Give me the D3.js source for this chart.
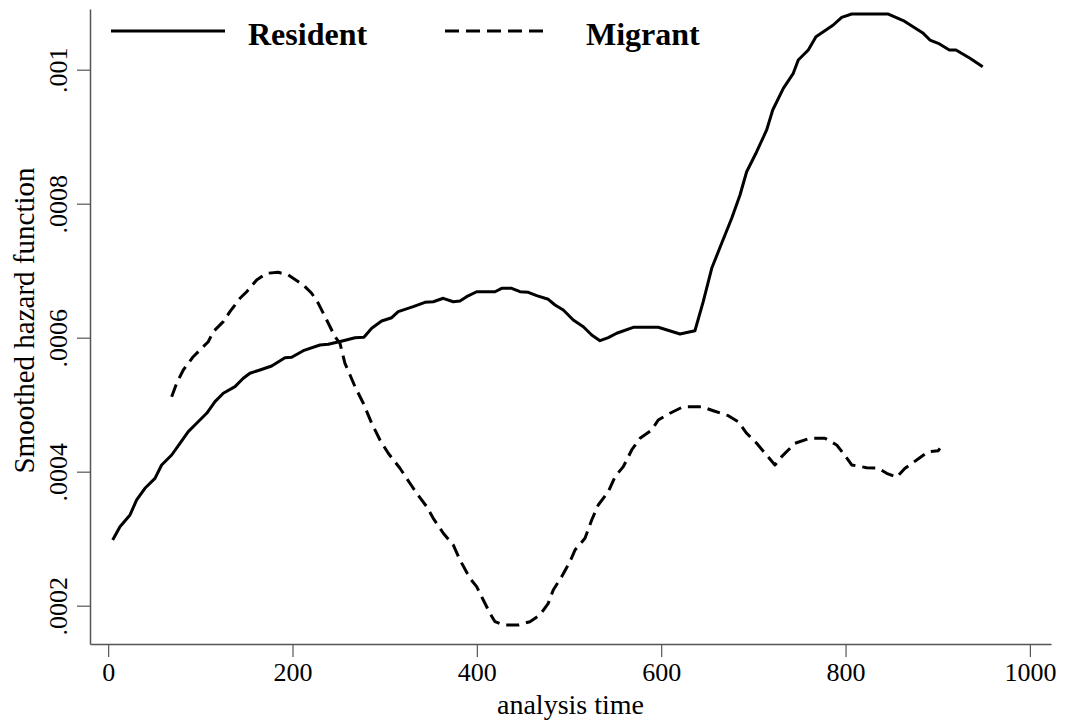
<!DOCTYPE html>
<html><head><meta charset="utf-8">
<script src="https://cdn.jsdelivr.net/npm/d3@7"></script>
<style>body{margin:0;background:#fff}svg{display:block}</style>
</head><body>
<script>
// ---- data (analysis time, smoothed hazard) ----
const residentTime = [4.9,12.8,23.7,30.9,39.9,50.8,58.0,68.9,77.9,86.9,96.0,106.9,115.9,124.9,137.6,146.6,153.8,164.7,177.4,191.8,199.1,211.7,229.8,238.8,255.1,267.8,277.5,285.9,296.7,307.6,314.7,331.0,343.7,352.7,363.6,374.4,381.7,388.9,399.8,419.7,426.9,437.8,446.8,455.8,464.9,477.5,484.8,493.8,504.6,515.5,524.6,533.6,542.6,551.7,569.7,596.8,620.4,636.6,645.6,654.8,665.6,676.5,685.5,692.7,703.6,714.4,721.0,732.5,743.3,748.7,759.6,767.9,786.7,795.8,806.7,846.4,862.6,884.3,891.6,900.6,912.6,919.8,935.0,948.8];
const residentHazard = [2.981,3.179,3.354,3.578,3.752,3.901,4.100,4.249,4.424,4.597,4.722,4.872,5.045,5.170,5.269,5.394,5.469,5.518,5.578,5.701,5.707,5.806,5.891,5.901,5.955,6.000,6.006,6.140,6.249,6.298,6.388,6.463,6.528,6.537,6.588,6.537,6.548,6.612,6.686,6.686,6.737,6.737,6.686,6.677,6.627,6.573,6.488,6.413,6.264,6.164,6.040,5.955,6.000,6.066,6.155,6.155,6.055,6.104,6.537,7.036,7.409,7.782,8.130,8.477,8.776,9.100,9.398,9.722,9.946,10.145,10.294,10.492,10.667,10.782,10.831,10.831,10.734,10.543,10.443,10.394,10.294,10.294,10.170,10.045].map(v => v * 1e-4);

const migrantTime = [68.9,74.3,81.5,92.3,101.4,108.6,114.0,124.9,132.1,143.0,150.3,161.1,172.0,184.5,195.4,211.7,220.8,228.0,237.1,246.1,251.5,256.9,262.4,267.8,276.8,285.9,294.9,303.9,316.6,327.4,334.7,345.6,352.7,363.6,374.4,381.7,392.5,399.8,407.0,414.2,419.7,428.7,444.9,457.6,468.5,477.5,482.9,492.0,501.0,506.5,517.3,524.6,531.7,542.6,549.9,558.9,568.0,577.0,589.7,596.8,609.5,624.0,643.9,656.5,672.8,683.6,692.7,703.6,712.6,723.4,730.7,745.1,761.4,777.7,790.4,797.5,806.7,822.9,835.5,844.6,855.5,864.5,877.2,889.8,900.6,902.4];
const migrantHazard = [5.119,5.319,5.518,5.716,5.842,5.940,6.089,6.239,6.388,6.588,6.686,6.861,6.961,6.976,6.936,6.786,6.663,6.513,6.264,6.015,5.916,5.618,5.443,5.269,5.021,4.722,4.473,4.275,4.051,3.827,3.678,3.478,3.304,3.081,2.906,2.682,2.409,2.284,2.085,1.887,1.761,1.712,1.712,1.761,1.861,2.036,2.234,2.433,2.657,2.831,3.006,3.279,3.503,3.701,3.925,4.075,4.324,4.498,4.622,4.772,4.872,4.970,4.970,4.910,4.836,4.746,4.573,4.424,4.275,4.100,4.224,4.424,4.498,4.498,4.398,4.275,4.100,4.060,4.051,3.976,3.916,4.051,4.175,4.298,4.313,4.349].map(v => v * 1e-4);

const xTicks = [0, 200, 400, 600, 800, 1000];
const yTicks = [0.0002, 0.0004, 0.0006, 0.0008, 0.001];
const yTickLabels = [".0002", ".0004", ".0006", ".0008", ".001"];
const seriesNames = ["Resident", "Migrant"];
const xTitle = "analysis time";
const yTitle = "Smoothed hazard function";

// ---- layout ----
const W = 1067, H = 726;
const mLeft = 90, mRight = 1051, mTop = 9, mBottom = 644;
const FONT = "'Liberation Serif','Times New Roman',serif";

const svg = d3.select("body").append("svg").attr("width", W).attr("height", H)
  .style("font-family", FONT);

const x = d3.scaleLinear().domain([-19.7, 1022.9]).range([mLeft, mRight]);
const y = d3.scaleLinear().domain([0.0001428, 0.0010906]).range([mBottom, mTop]);

const axisColor = "#555";

// x axis
const gx = svg.append("g").attr("transform", `translate(0,${mBottom})`)
  .call(d3.axisBottom(x).tickValues(xTicks).tickSize(13).tickSizeOuter(0).tickFormat(d3.format("d")));
gx.select(".domain").attr("stroke", axisColor).attr("stroke-width", 1.5);
gx.selectAll(".tick line").attr("stroke", axisColor).attr("stroke-width", 1.2);
gx.selectAll(".tick text").attr("y", 37).attr("dy", null)
  .attr("fill", "#000").style("font-size", "26px").style("font-family", FONT);

// y axis
const gy = svg.append("g").attr("transform", `translate(${mLeft},0)`)
  .call(d3.axisLeft(y).tickValues(yTicks).tickSize(13).tickSizeOuter(0)
    .tickFormat((d, i) => yTickLabels[i]));
gy.select(".domain").attr("stroke", axisColor).attr("stroke-width", 1.5);
gy.selectAll(".tick line").attr("stroke", axisColor).attr("stroke-width", 1.2);
gy.selectAll(".tick text")
  .attr("transform", "rotate(-90)")
  .attr("x", 0).attr("y", -23).attr("dy", null)
  .attr("text-anchor", "middle")
  .attr("fill", "#000").style("font-size", "26px").style("font-family", FONT);

// axis titles
svg.append("text").attr("x", (mLeft + mRight) / 2).attr("y", 714)
  .attr("text-anchor", "middle").style("font-size", "28px").text(xTitle);
svg.append("text").attr("transform", `translate(34,${(mTop + mBottom) / 2 - 6}) rotate(-90)`)
  .attr("text-anchor", "middle").style("font-size", "29px").text(yTitle);

// lines
const line = d3.line().x(d => x(d[0])).y(d => y(d[1]));
const resident = residentTime.map((t, i) => [t, residentHazard[i]]);
const migrant = migrantTime.map((t, i) => [t, migrantHazard[i]]);

svg.append("path").datum(resident).attr("d", line)
  .attr("fill", "none").attr("stroke", "#000").attr("stroke-width", 3)
  .attr("stroke-linejoin", "round");
svg.append("path").datum(migrant).attr("d", line)
  .attr("fill", "none").attr("stroke", "#000").attr("stroke-width", 3)
  .attr("stroke-dasharray", "13,7").attr("stroke-linejoin", "round");

// legend
const lg = svg.append("g");
lg.append("line").attr("x1", 111).attr("x2", 225).attr("y1", 31).attr("y2", 31)
  .attr("stroke", "#000").attr("stroke-width", 3);
lg.append("text").attr("x", 248).attr("y", 45).style("font-size", "32px")
  .style("font-weight", "bold").text(seriesNames[0]);
lg.append("line").attr("x1", 445).attr("x2", 547).attr("y1", 31).attr("y2", 31)
  .attr("stroke", "#000").attr("stroke-width", 3).attr("stroke-dasharray", "14,7");
lg.append("text").attr("x", 586).attr("y", 45).style("font-size", "32px")
  .style("font-weight", "bold").text(seriesNames[1]);
</script>
</body></html>
